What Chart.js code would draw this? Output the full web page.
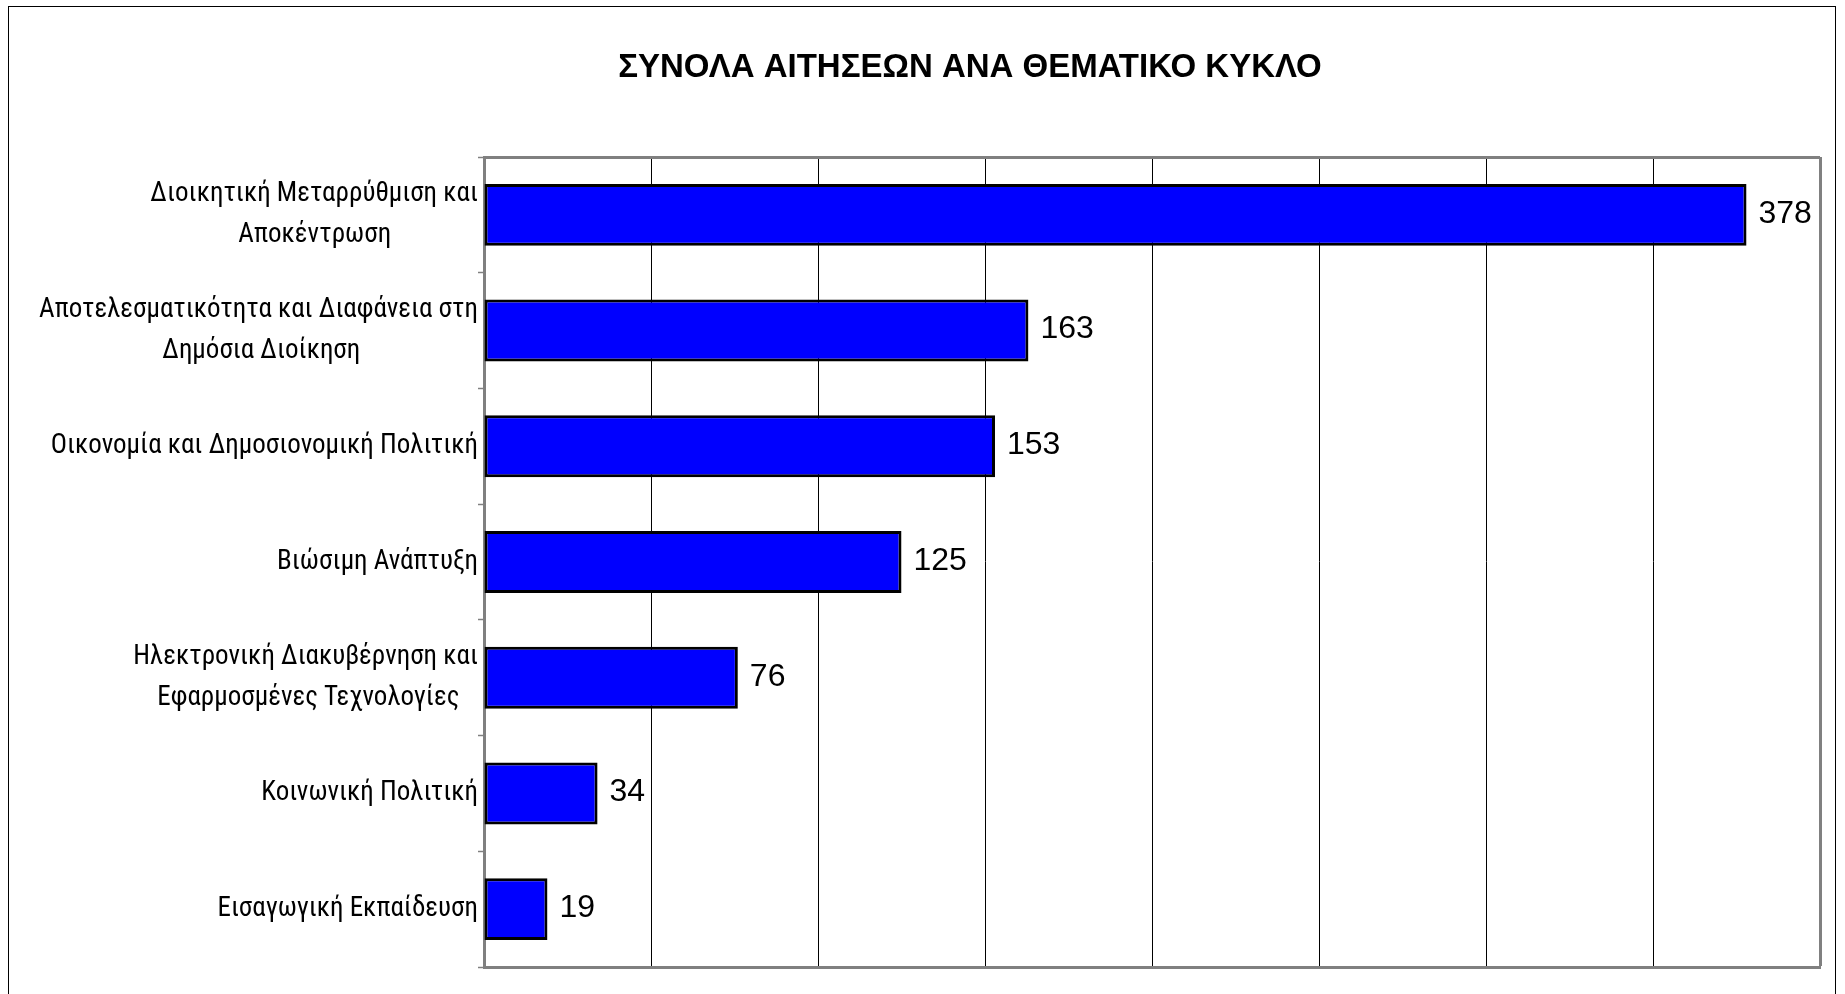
<!DOCTYPE html>
<html>
<head>
<meta charset="utf-8">
<script src="https://cdn.jsdelivr.net/npm/chart.js@4.4.1/dist/chart.umd.min.js"></script>
<style>
  html, body { margin: 0; padding: 0; background: #fff; overflow: hidden; }
  #wrap { position: relative; width: 1845px; height: 994px; }
  #frame { position: absolute; left: 8px; top: 6px; width: 1826px; height: 1100px; border: 1px solid #000; pointer-events: none; }
</style>
</head>
<body>
<div id="wrap">
  <canvas id="chart"></canvas>
  <div id="frame"></div>
</div>
<script>
// ---- data ----
const titleText = "ΣΥΝΟΛΑ ΑΙΤΗΣΕΩΝ ΑΝΑ ΘΕΜΑΤΙΚΟ ΚΥΚΛΟ";
const categories = [
  ["Διοικητική Μεταρρύθμιση και", "Αποκέντρωση"],
  ["Αποτελεσματικότητα και Διαφάνεια στη", "Δημόσια Διοίκηση"],
  ["Οικονομία και Δημοσιονομική Πολιτική"],
  ["Βιώσιμη Ανάπτυξη"],
  ["Ηλεκτρονική Διακυβέρνηση και", "Εφαρμοσμένες Τεχνολογίες"],
  ["Κοινωνική Πολιτική"],
  ["Εισαγωγική Εκπαίδευση"]
];
const values = [378, 163, 153, 125, 76, 34, 19];
const axisMin = 0;
const axisMax = 400;
const axisStep = 50;

const labelFamily = "'Roboto Condensed', 'Liberation Sans', sans-serif";
const labelSize = 27;

// pad the shorter line so two-line labels stay centred on each other
const mctx = document.createElement("canvas").getContext("2d");
function centerLines(lines) {
  if (lines.length < 2) return lines;
  mctx.font = labelSize + "px " + labelFamily;
  const widths = lines.map(l => mctx.measureText(l).width);
  const maxW = Math.max(...widths);
  const sp = mctx.measureText(" ").width;
  return lines.map((l, i) => l + " ".repeat(Math.round((maxW - widths[i]) / 2 / sp)));
}
const tickLabels = categories.map(centerLines);

// value next to the end of each bar
const valueLabels = {
  id: "valueLabels",
  afterDatasetsDraw(chart) {
    const ctx = chart.ctx;
    const meta = chart.getDatasetMeta(0);
    ctx.save();
    ctx.font = '32px "Liberation Sans", Arial, sans-serif';
    ctx.fillStyle = "#000";
    ctx.textAlign = "left";
    ctx.textBaseline = "middle";
    meta.data.forEach((bar, i) => {
      ctx.fillText(String(values[i]), bar.x + 12, bar.y - 1);
    });
    ctx.restore();
  }
};

// the left padding only serves to centre the title; let the category labels use that room
const labelRoom = {
  id: "labelRoom",
  afterLayout(chart) { chart.scales.y.left = 0; }
};

new Chart(document.getElementById("chart"), {
  type: "bar",
  data: {
    labels: tickLabels,
    datasets: [{
      data: values,
      backgroundColor: "#0000FF",
      borderColor: "#000000",
      borderWidth: 3,
      borderSkipped: false,
      barPercentage: 0.535,
      categoryPercentage: 1
    }]
  },
  options: {
    indexAxis: "y",
    responsive: true,
    maintainAspectRatio: false,
    animation: false,
    layout: { padding: { left: 120, right: 25, top: 0, bottom: 0 } },
    plugins: {
      legend: { display: false },
      tooltip: { enabled: false },
      title: {
        display: true,
        text: titleText,
        color: "#000",
        font: { family: "'Liberation Sans', Arial, sans-serif", size: 33, weight: "bold" },
        padding: { top: 48.6, bottom: 68.8 }
      }
    },
    scales: {
      x: {
        min: axisMin,
        max: axisMax,
        ticks: { stepSize: axisStep, display: false },
        grid: {
          drawTicks: false,
          color: c => c.tick && c.tick.value === axisMax ? "#808080" : (c.tick && c.tick.value === axisMin ? "rgba(0,0,0,0)" : "#000"),
          lineWidth: c => c.tick && c.tick.value === axisMax ? 3 : 1
        },
        border: { color: "#808080", width: 3 },
        afterFit: s => { s.height = 27; }
      },
      y: {
        ticks: {
          font: { family: labelFamily, size: labelSize, lineHeight: 1.52 },
          color: "#000",
          padding: 0,
          crossAlign: "near"
        },
        grid: {
          offset: true,
          color: c => c.index === 0 ? "#808080" : "rgba(0,0,0,0)",
          lineWidth: 3,
          tickColor: "#808080",
          tickLength: 6,
          tickWidth: 1.5
        },
        border: { color: "#808080", width: 3 },
        afterFit: s => { s.width = 364; s.paddingTop = 0; s.paddingBottom = 0; }
      }
    }
  },
  plugins: [valueLabels, labelRoom]
});
</script>
</body>
</html>
